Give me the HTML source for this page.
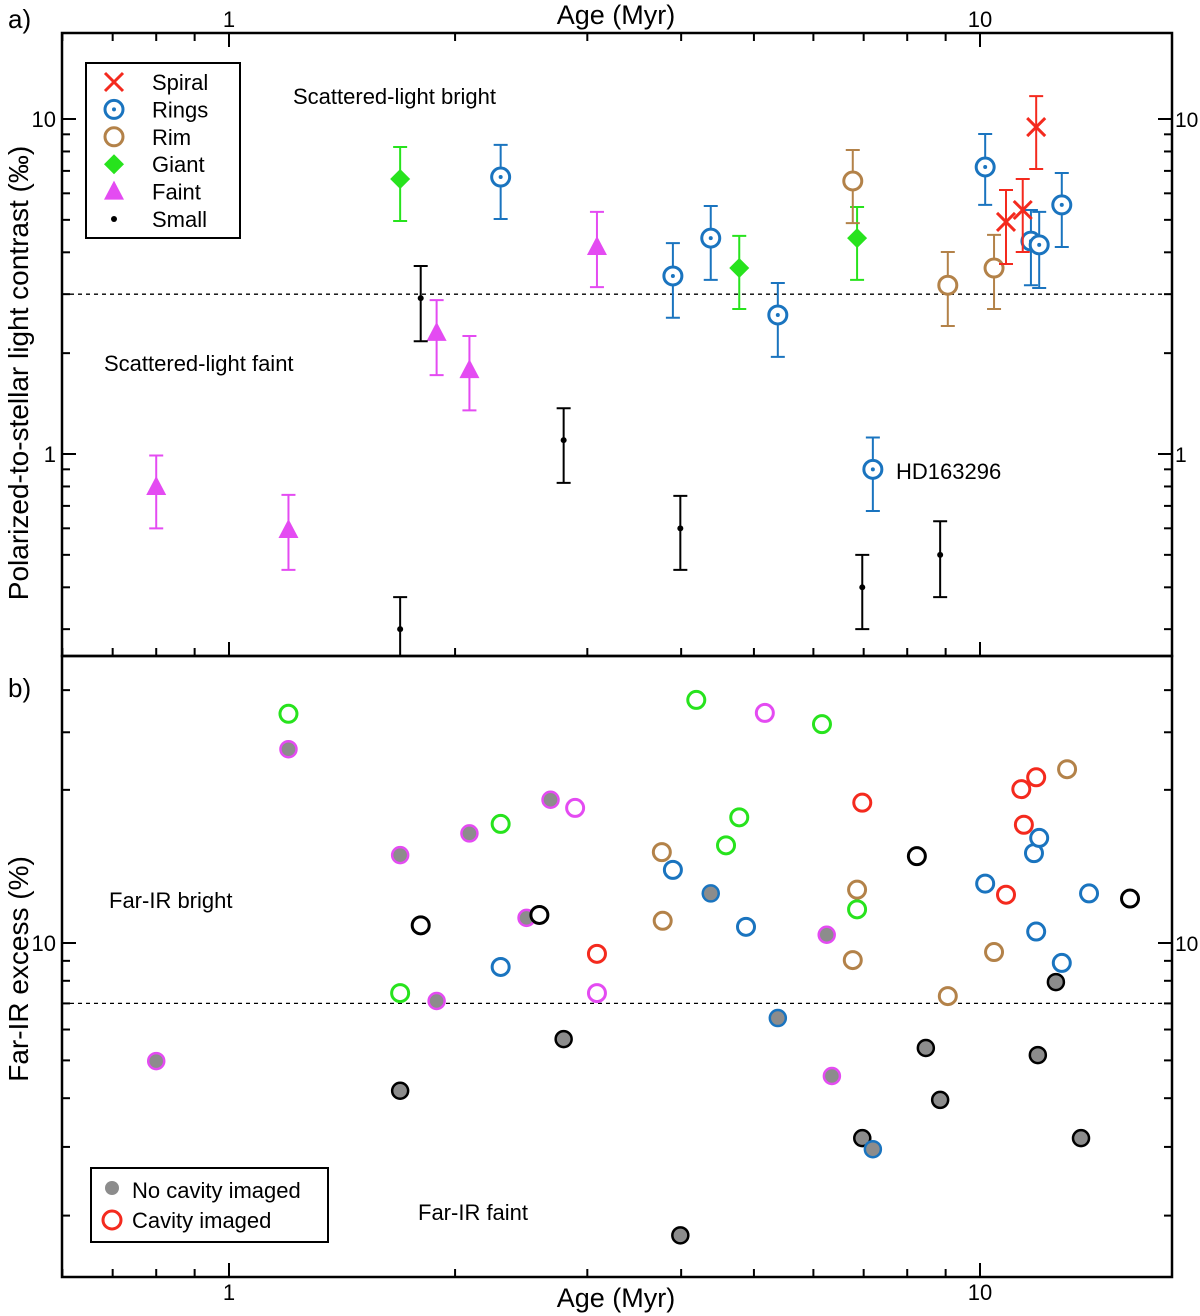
<!DOCTYPE html>
<html><head><meta charset="utf-8"><style>
html,body{margin:0;padding:0;background:#fff}
svg{display:block;font-family:"Liberation Sans",sans-serif}
</style></head><body>
<svg id="chart" width="1200" height="1316" viewBox="0 0 1200 1316" xmlns="http://www.w3.org/2000/svg">
<g id="g"></g>
</svg>
<script>
// ---------- data: panel a (age Myr, contrast permil, err high, err low) ----------
const faintAge=[0.80,1.20,1.89,2.09,3.09];
const faintVal=[0.797,0.593,2.30,1.78,4.15];
const faintHi=[0.99,0.755,2.88,2.25,5.28];
const faintLo=[0.60,0.451,1.72,1.35,3.15];
const giantAge=[1.69,4.78,6.86];
const giantVal=[6.62,3.59,4.41];
const giantHi=[8.25,4.48,5.46];
const giantLo=[4.96,2.71,3.31];
const ringsAge=[2.30,3.90,4.38,5.38,7.20,10.16,11.69,11.99,12.85];
const ringsVal=[6.71,3.40,4.41,2.60,0.90,7.19,4.32,4.21,5.54];
const ringsHi=[8.37,4.26,5.50,3.24,1.12,9.02,5.35,5.28,6.90];
const ringsLo=[5.03,2.55,3.31,1.95,0.676,5.54,3.19,3.13,4.15];
const rimAge=[6.77,9.06,10.44];
const rimVal=[6.53,3.19,3.59];
const rimHi=[8.08,4.01,4.51];
const rimLo=[4.89,2.41,2.71];
const spiralAge=[10.83,11.40,11.88];
const spiralVal=[4.93,5.35,9.46];
const spiralHi=[6.14,6.62,11.7];
const spiralLo=[3.69,4.01,7.09];
const smallAge=[1.69,1.80,2.79,3.99,6.97,8.85];
const smallVal=[0.30,2.92,1.10,0.60,0.40,0.50];
const smallHi=[0.374,3.64,1.37,0.75,0.50,0.63];
const smallLo=[0.243,2.17,0.82,0.451,0.30,0.374];
// ---------- data: panel b (age Myr, far-IR excess %, cavity imaged?) ----------
const bGreenAge=[1.20,1.69,2.30,4.19,4.78,4.59,6.16,6.86];
const bGreenVal=[38.7,7.44,20.2,42.0,21.0,17.8,36.4,12.2];
const bGreenCav=[1,1,1,1,1,1,1,1];
const bMagAge=[1.20,1.69,1.89,2.09,2.49,2.68,0.80,6.25,6.35,2.89,3.09,5.17];
const bMagVal=[31.4,16.8,7.10,19.1,11.6,23.3,4.98,10.5,4.56,22.2,7.44,38.9];
const bMagCav=[0,0,0,0,0,0,0,0,0,1,1,1];
const bBlackAge=[1.80,2.59,8.24,15.84,1.69,2.79,3.99,6.97,8.47,8.85,11.94,12.62,13.63];
const bBlackVal=[11.1,11.8,16.7,13.0,4.18,5.67,1.78,3.16,5.38,3.96,5.16,7.94,3.16];
const bBlackCav=[1,1,1,1,0,0,0,0,0,0,0,0,0];
const bBlueAge=[2.30,3.90,4.88,10.16,11.80,11.99,11.88,12.85,13.97,4.38,5.38,7.20];
const bBlueVal=[8.68,15.4,11.0,14.2,17.0,18.6,10.7,8.89,13.4,13.4,6.42,2.96];
const bBlueCav=[1,1,1,1,1,1,1,1,1,0,0,0];
const bRedAge=[3.09,6.97,10.83,11.35,11.88,11.44];
const bRedVal=[9.38,22.9,13.3,24.8,26.6,20.1];
const bRimAge=[3.77,3.78,6.86,6.77,9.06,10.44,13.06];
const bRimVal=[17.1,11.4,13.7,9.04,7.31,9.48,27.9];
// ticks
const xMajor=[1,10];
const xMinor=[0.6,0.7,0.8,0.9,2,3,4,5,6,7,8,9];
const yaMajor=[1,10];
const yaMinor=[0.3,0.4,0.5,0.6,0.7,0.8,0.9,2,3,4,5,6,7,8,9];
const ybMajor=[10];
const ybMinor=[2,3,4,5,6,7,8,9,24.7,34.7,44.5];
const thresholdA=3, thresholdB=7;

// ---------- scales ----------
const X0=62,X1=1172, AT=33, AB=656, BT=656, BB=1277;
const xs=v=>229+751*Math.log10(v);
const ya=v=>454-335*Math.log10(v);
const yb=v=>943-390*(Math.log10(v)-1);
const C={red:'#f42a1e',blue:'#1a74bf',brown:'#b38249',green:'#27e31d',mag:'#e44bf2',black:'#000',gray:'#8c8c8c'};
const g=document.getElementById('g');
const NS='http://www.w3.org/2000/svg';
function el(t,a,p){const e=document.createElementNS(NS,t);for(const k in a)e.setAttribute(k,a[k]);(p||g).appendChild(e);return e;}
function txt(s,x,y,a,p){const e=el('text',Object.assign({x:x,y:y,'font-size':23,fill:'#000'},a),p);e.textContent=s;return e;}

// frames
let f=el('rect',{x:X0,y:AT,width:X1-X0,height:AB-AT,fill:'none',stroke:'#000','stroke-width':2.5});

f=el('rect',{x:X0,y:BT,width:X1-X0,height:BB-BT,fill:'none',stroke:'#000','stroke-width':2.5});


// ticks
const tk=el('g',{stroke:'#000','stroke-width':2});

function xt(v,len){const x=xs(v);el('line',{x1:x,x2:x,y1:AT,y2:AT+len},tk);el('line',{x1:x,x2:x,y1:BB,y2:BB-len},tk);el('line',{x1:x,x2:x,y1:AB,y2:AB-len},tk);}
xMajor.forEach(v=>xt(v,14));xMinor.forEach(v=>xt(v,8));
function yt(y,len){el('line',{x1:X0,x2:X0+len,y1:y,y2:y},tk);el('line',{x1:X1,x2:X1-len,y1:y,y2:y},tk);}
yaMajor.forEach(v=>yt(ya(v),14));yaMinor.forEach(v=>yt(ya(v),8));
ybMajor.forEach(v=>yt(yb(v),14));ybMinor.forEach(v=>{const y=yb(v);if(y>BT+3&&y<BB-3)yt(y,8);});

// tick labels
const tl=el('g',{});
xMajor.forEach(v=>{txt(String(v),xs(v),27,{'text-anchor':'middle','font-size':22},tl);txt(String(v),xs(v),1300,{'text-anchor':'middle','font-size':22},tl);});
yaMajor.forEach(v=>{txt(String(v),56,ya(v)+8,{'text-anchor':'end','font-size':22},tl);txt(String(v),1175,ya(v)+8,{'font-size':21},tl);});
ybMajor.forEach(v=>{txt(String(v),56,yb(v)+8,{'text-anchor':'end','font-size':22},tl);txt(String(v),1175,yb(v)+8,{'font-size':21},tl);});

// titles
let t=txt('Age (Myr)',616,24,{'text-anchor':'middle','font-size':27});
t=txt('Age (Myr)',616,1307,{'text-anchor':'middle','font-size':27});
t=txt('Polarized-to-stellar light contrast (‰)',0,0,{'text-anchor':'middle','font-size':28,transform:'translate(28,373) rotate(-90)'});
t=txt('Far-IR excess (%)',0,0,{'text-anchor':'middle','font-size':28,transform:'translate(28,969) rotate(-90)'});
t=txt('a)',8,28,{'font-size':26});
t=txt('b)',8,697,{'font-size':26});
t=txt('Scattered-light bright',293,104,{'font-size':22});
t=txt('Scattered-light faint',104,371,{'font-size':22});
t=txt('HD163296',896,479,{'font-size':22});
t=txt('Far-IR bright',109,908,{'font-size':22});
t=txt('Far-IR faint',418,1220,{'font-size':22});

// thresholds
let d=el('line',{x1:X0,x2:X1,y1:ya(thresholdA),y2:ya(thresholdA),stroke:'#000','stroke-width':1.3,'stroke-dasharray':'4,4'});

d=el('line',{x1:X0,x2:X1,y1:yb(thresholdB),y2:yb(thresholdB),stroke:'#000','stroke-width':1.3,'stroke-dasharray':'4,4'});


// clip for panel a
const defs=el('defs',{});
const cp=el('clipPath',{id:'ca'},defs);el('rect',{x:X0,y:AT,width:X1-X0,height:AB-AT},cp);

// markers
function marker(kind,x,y,col,p){
  if(kind==='x'){el('path',{d:`M${x-9} ${y-9}L${x+9} ${y+9}M${x-9} ${y+9}L${x+9} ${y-9}`,stroke:col,'stroke-width':3,fill:'none'},p);}
  else if(kind==='ring'){el('circle',{cx:x,cy:y,r:9,fill:'#fff',stroke:col,'stroke-width':3},p);el('circle',{cx:x,cy:y,r:2,fill:col},p);}
  else if(kind==='rim'){el('circle',{cx:x,cy:y,r:9,fill:'#fff',stroke:col,'stroke-width':3},p);}
  else if(kind==='diamond'){el('path',{d:`M${x} ${y-10}L${x+10} ${y}L${x} ${y+10}L${x-10} ${y}Z`,fill:col},p);}
  else if(kind==='tri'){el('path',{d:`M${x} ${y-11}L${x+10} ${y+8}L${x-10} ${y+8}Z`,fill:col},p);}
  else if(kind==='dot'){el('circle',{cx:x,cy:y,r:3,fill:col},p);}
}
function seriesA(name,ages,vals,hi,lo,kind,col){
  const grp=el('g',{'clip-path':'url(#ca)'});
  
  ages.forEach((a,i)=>{
    const x=xs(a),y=ya(vals[i]),y1=ya(hi[i]),y2=ya(lo[i]);
    const pg=el('g',{},grp);
    
    el('path',{d:`M${x} ${y1}V${y2}M${x-7} ${y1}H${x+7}M${x-7} ${y2}H${x+7}`,stroke:col,'stroke-width':2,fill:'none'},pg);
    marker(kind,x,y,col,pg);
  });
}
seriesA('faint',faintAge,faintVal,faintHi,faintLo,'tri',C.mag);
seriesA('giant',giantAge,giantVal,giantHi,giantLo,'diamond',C.green);
seriesA('small',smallAge,smallVal,smallHi,smallLo,'dot',C.black);
seriesA('rim',rimAge,rimVal,rimHi,rimLo,'rim',C.brown);
seriesA('rings',ringsAge,ringsVal,ringsHi,ringsLo,'ring',C.blue);
seriesA('spiral',spiralAge,spiralVal,spiralHi,spiralLo,'x',C.red);

function seriesB(name,ages,vals,cav,col){
  const grp=el('g',{});
  
  ages.forEach((a,i)=>{
    const c=el('circle',{cx:xs(a),cy:yb(vals[i]),r:cav[i]?8.5:8,fill:cav[i]?'#fff':C.gray,stroke:col,'stroke-width':cav[i]?3:2.5},grp);
    
    
  });
}
seriesB('giant',bGreenAge,bGreenVal,bGreenCav,C.green);
seriesB('faint',bMagAge,bMagVal,bMagCav,C.mag);
seriesB('small',bBlackAge,bBlackVal,bBlackCav,C.black);
seriesB('rings',bBlueAge,bBlueVal,bBlueCav,C.blue);
seriesB('spiral',bRedAge,bRedVal,bRedAge.map(()=>1),C.red);
seriesB('rim',bRimAge,bRimVal,bRimAge.map(()=>1),C.brown);

// legend a
const la=el('g',{});
el('rect',{x:86,y:63,width:154,height:175,fill:'#fff',stroke:'#000','stroke-width':2},la);
const legNames=['Spiral','Rings','Rim','Giant','Faint','Small'];
const legKinds=['x','ring','rim','diamond','tri','dot'];
const legCols=[C.red,C.blue,C.brown,C.green,C.mag,C.black];
legNames.forEach((n,i)=>{
  const y=82+i*27.4;
  const e=el('g',{},la);
  marker(legKinds[i],114,y,legCols[i],e);
  txt(n,152,y+8,{'font-size':22},e);
});
// legend b
const lb=el('g',{});
el('rect',{x:91,y:1168,width:237,height:74,fill:'#fff',stroke:'#000','stroke-width':2},lb);
let e1=el('g',{},lb);
el('circle',{cx:112,cy:1188,r:7,fill:C.gray},e1);txt('No cavity imaged',132,1198,{'font-size':22},e1);
let e2=el('g',{},lb);
el('circle',{cx:112,cy:1220,r:9,fill:'#fff',stroke:C.red,'stroke-width':3},e2);txt('Cavity imaged',132,1228,{'font-size':22},e2);
</script>
</body></html>
